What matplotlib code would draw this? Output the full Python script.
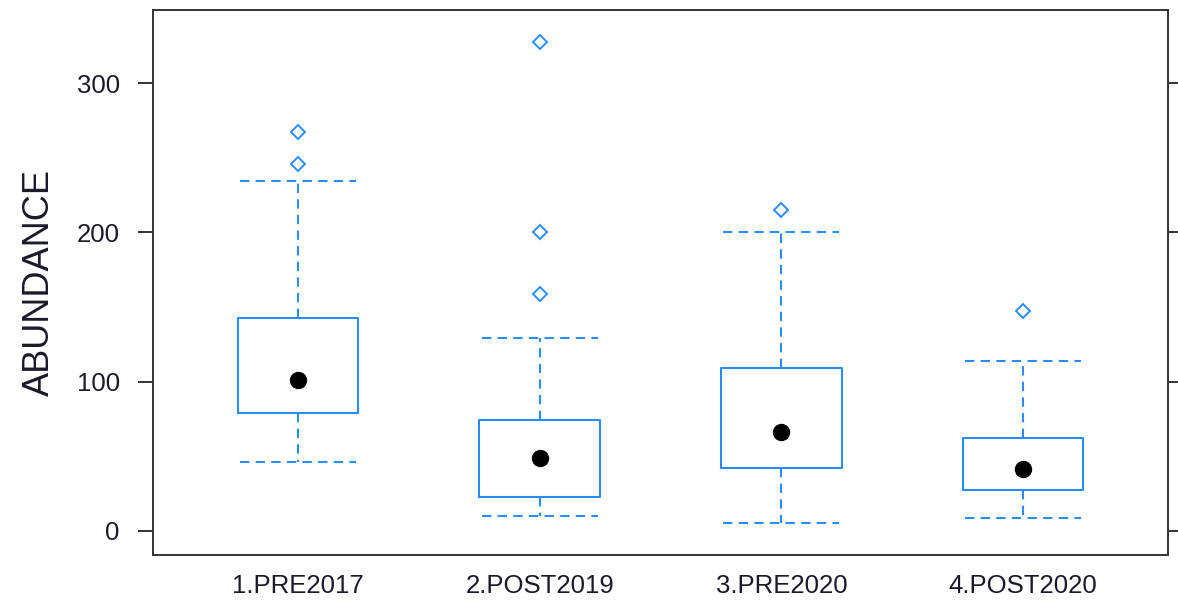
import numpy as np
import matplotlib.pyplot as plt

plt.rcParams["font.family"] = ["Liberation Sans", "DejaVu Sans"]

groups = ["1.PRE2017", "2.POST2019", "3.PRE2020", "4.POST2020"]
whisker_lo = [46, 10, 5, 9]
q1 = [79, 23, 42, 27.5]
medians = [101, 49, 66, 41.5]
q3 = [142.5, 74, 109, 62.5]
whisker_hi = [234.5, 129, 200, 114]
outliers = [[246, 267], [159, 200, 327.5], [215], [147]]

blue = "#2b8cff"

stats = []
for i, name in enumerate(groups):
    stats.append(dict(label=name, whislo=whisker_lo[i], q1=q1[i], med=medians[i],
                      q3=q3[i], whishi=whisker_hi[i], fliers=outliers[i]))

fig = plt.figure(figsize=(11.78, 6.03), dpi=100)
ax = fig.add_axes([0.1299, 0.0796, 0.8616, 0.9038])

pos = np.arange(1, len(groups) + 1)
ax.bxp(stats, positions=pos, widths=0.5, capwidths=0.48,
       boxprops=dict(color=blue, lw=1.5),
       whiskerprops=dict(color=blue, lw=1.5, ls=(0, (4.5, 3))),
       capprops=dict(color=blue, lw=1.5, ls=(0, (4.5, 3))),
       medianprops=dict(visible=False),
       flierprops=dict(marker="D", markersize=7, markerfacecolor="none",
                       markeredgecolor=blue, markeredgewidth=1.4))
ax.plot(pos, medians, "o", color="black", markersize=11.5, zorder=5)

ax.set_xlim(0.4, 4.6)
ax.set_ylim(-16.1, 348.9)
ax.set_yticks([0, 100, 200, 300])
ax.set_xticks(pos)
ax.set_xticklabels(groups)
ax.tick_params(axis="x", length=0, labelsize=18.5, pad=14)
ax.tick_params(axis="y", length=11, width=1.4, labelsize=18.5, pad=13, colors="#333333",
               right=True, labelright=False)
for lab in ax.get_yticklabels() + ax.get_xticklabels():
    lab.set_color("#1a1a2a")
for s in ax.spines.values():
    s.set_linewidth(1.4)
    s.set_color("#333333")
ax.set_ylabel("ABUNDANCE", fontsize=26, labelpad=14, color="#1a1a2a")

fig.savefig("out.png", dpi=100)
